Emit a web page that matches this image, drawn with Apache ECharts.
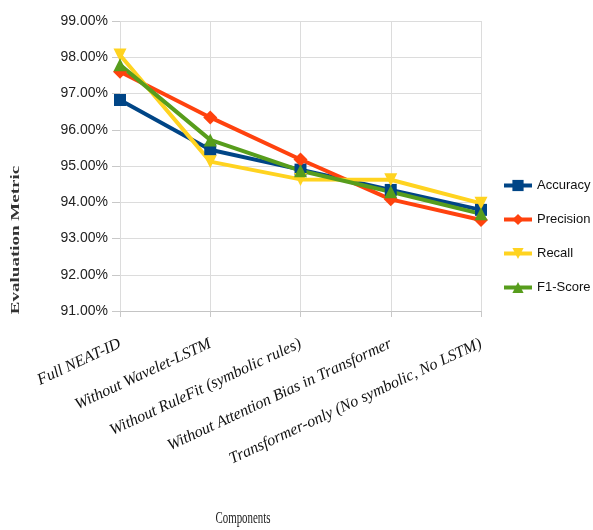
<!DOCTYPE html>
<html>
<head>
<meta charset="utf-8">
<script src="https://cdn.jsdelivr.net/npm/echarts@6/dist/echarts.min.js"></script>
<style>
html, body { margin: 0; padding: 0; background: #fff; }
#myChart { width: 593px; height: 530px; }
</style>
</head>
<body>
<div id="myChart"></div>
<script>
// components on x axis
var components = ['Full NEAT-ID', 'Without Wavelet-LSTM', 'Without RuleFit (symbolic rules)', 'Without Attention Bias in Transformer', 'Transformer-only (No symbolic, No LSTM)']
// metric values (%)
var accuracy = [96.82, 95.45, 94.9, 94.34, 93.79]
var precision = [97.6, 96.34, 95.18, 94.08, 93.51]
var recall = [98.06, 95.12, 94.63, 94.62, 93.97]
var f1Score = [97.79, 95.72, 94.87, 94.29, 93.68]

var myChart = echarts.init(document.getElementById('myChart'))

function makeSeries (name, data, color, symbol, size) {
  return {
    name: name,
    type: 'line',
    data: data,
    symbol: symbol,
    symbolSize: size,
    lineStyle: { color: color, width: 4 },
    itemStyle: { color: color },
    emphasis: { disabled: true }
  }
}

myChart.setOption({
  animation: false,
  textStyle: { fontFamily: 'Liberation Sans, Arial' },
  legend: {
    orient: 'vertical',
    left: 497,
    top: 174,
    itemGap: 21,
    itemWidth: 28,
    itemHeight: 14,
    lineStyle: { width: 4 },
    textStyle: { fontSize: 13, color: '#111' },
    data: ['Accuracy', 'Precision', 'Recall', 'F1-Score']
  },
  grid: { left: 120, right: 112, top: 21, bottom: 219 },
  xAxis: {
    type: 'category',
    boundaryGap: false,
    data: components,
    axisLine: { show: true, lineStyle: { color: '#c4c4c4' } },
    axisTick: { show: true, length: 6, lineStyle: { color: '#c8c8c8' } },
    splitLine: { show: true, lineStyle: { color: '#dcdcdc' } },
    axisLabel: {
      rotate: 25,
      interval: 0,
      margin: 32,
      fontFamily: 'Liberation Serif, Times New Roman, serif',
      fontStyle: 'italic',
      fontSize: 16,
      color: '#111'
    }
  },
  yAxis: {
    type: 'value',
    min: 91,
    max: 99,
    interval: 1,
    axisLine: { show: false },
    axisTick: { show: true, length: 8, lineStyle: { color: '#c8c8c8' } },
    splitLine: { show: true, lineStyle: { color: '#dcdcdc' } },
    axisLabel: {
      fontSize: 14,
      color: '#222',
      margin: 12,
      formatter: function (v) { return v.toFixed(2) + '%' }
    }
  },
  graphic: [
    {
      type: 'text',
      x: 16,
      y: 240,
      rotation: Math.PI / 2,
      scaleY: 0.65,
      style: {
        text: 'Evaluation Metric',
        font: 'bold 19px Liberation Serif, Times New Roman, serif',
        fill: '#333',
        align: 'center',
        verticalAlign: 'middle'
      }
    },
    {
      type: 'text',
      x: 243,
      y: 519,
      scaleX: 0.68,
      style: {
        text: 'Components',
        font: '16px Liberation Serif, Times New Roman, serif',
        fill: '#222',
        align: 'center',
        verticalAlign: 'middle'
      }
    }
  ],
  series: [
    makeSeries('Accuracy', accuracy, '#004586', 'rect', 12),
    makeSeries('Precision', precision, '#ff420e', 'diamond', 14),
    makeSeries('Recall', recall, '#ffd320', 'path://M0,0 L10,0 L5,10 Z', 13),
    makeSeries('F1-Score', f1Score, '#579d1c', 'triangle', 13)
  ]
})
</script>
</body>
</html>
